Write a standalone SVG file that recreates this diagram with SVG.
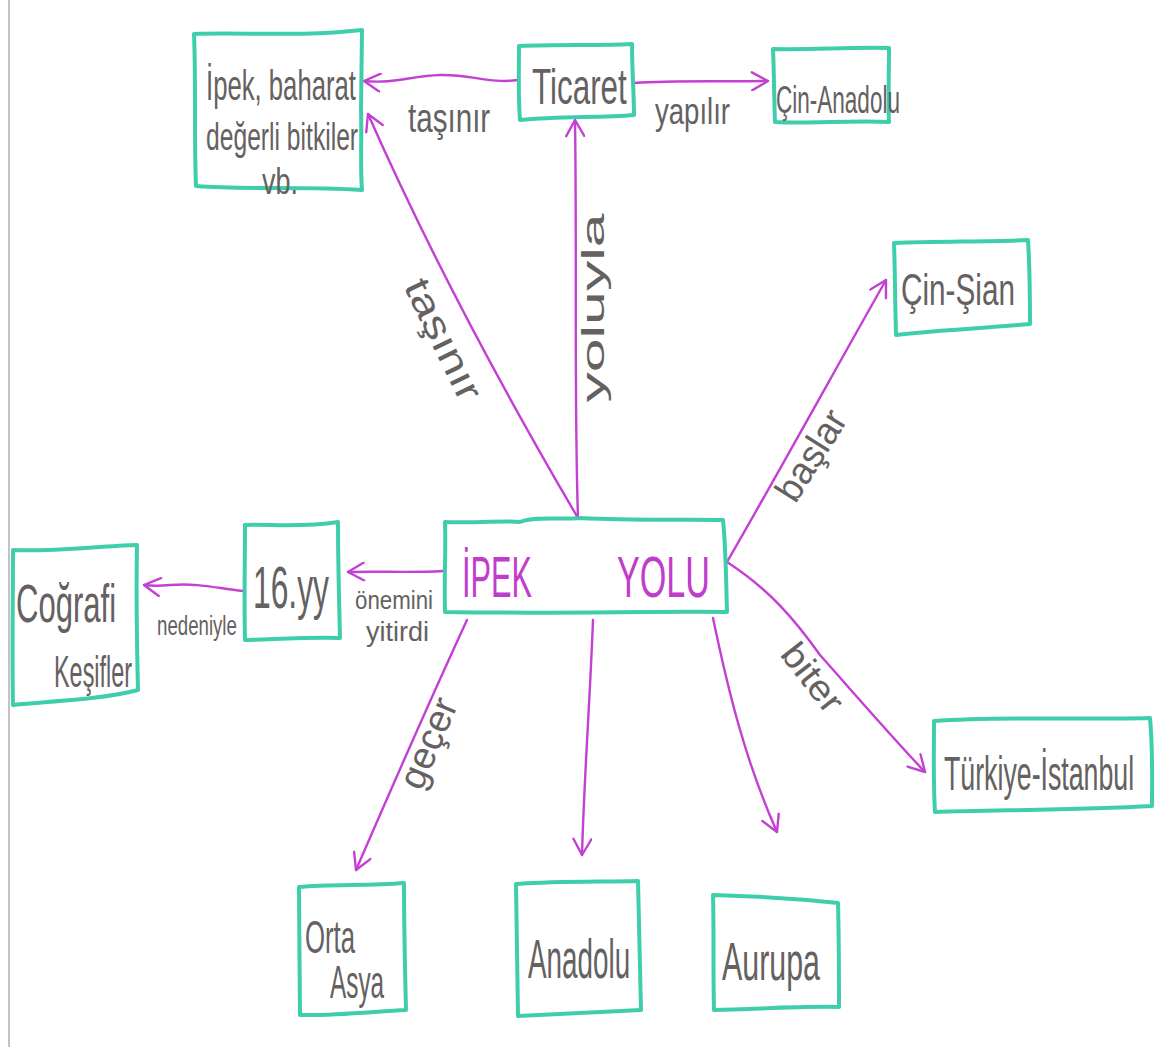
<svg xmlns="http://www.w3.org/2000/svg" width="1172" height="1047" viewBox="0 0 1172 1047">
  <defs>
    <style>
      .box { fill: none; stroke: #3fceac; stroke-width: 4; stroke-linejoin: round; stroke-linecap: round; }
      .edge { fill: none; stroke: #c43fd4; stroke-width: 2.4; stroke-linecap: round; }
      .t { font-family: 'Liberation Sans', 'DejaVu Sans', sans-serif; fill: #656161; }
      .main { font-family: 'Liberation Sans', 'DejaVu Sans', sans-serif; fill: #c23ccc; }
    </style>
    <marker id="arrow" viewBox="0 0 20 20" refX="18" refY="10" markerWidth="20" markerHeight="20" markerUnits="userSpaceOnUse" orient="auto">
      <path d="M2,1 L18,10 L2,19" fill="none" stroke="#c43fd4" stroke-width="2.4" stroke-linecap="round" stroke-linejoin="round"/>
    </marker>
  </defs>

  <rect width="1172" height="1047" fill="#ffffff"/>
  <!-- paper edge -->
  <line x1="9" y1="0" x2="9" y2="1047" stroke="#c4c2c2" stroke-width="2"/>

  <g id="connectors">
    <!-- Ticaret -> İpek, baharat -->
    <path class="edge" marker-end="url(#arrow)" d="M518,80 C490,84 470,74 440,75 C410,76 395,84 364,81"/>
    <!-- Ticaret -> Çin-Anadolu -->
    <path class="edge" marker-end="url(#arrow)" d="M634,83 C680,80 720,82 768,81"/>
    <!-- İpek Yolu -> İpek, baharat -->
    <path class="edge" marker-end="url(#arrow)" d="M578,518 Q450,300 368,114"/>
    <!-- İpek Yolu -> Ticaret -->
    <path class="edge" marker-end="url(#arrow)" d="M578,518 C574,400 577,250 575,120"/>
    <!-- İpek Yolu -> Çin-Şian -->
    <path class="edge" marker-end="url(#arrow)" d="M727,562 C780,470 835,370 886,280"/>
    <!-- İpek Yolu -> Türkiye-İstanbul -->
    <path class="edge" marker-end="url(#arrow)" d="M727,562 C770,590 795,620 820,655 C860,700 890,735 925,772"/>
    <!-- İpek Yolu -> 16.yy -->
    <path class="edge" marker-end="url(#arrow)" d="M443,571 C410,573 380,571 348,572"/>
    <!-- 16.yy -> Coğrafi Keşifler -->
    <path class="edge" marker-end="url(#arrow)" d="M243,591 C215,588 200,583 170,585 C160,586 152,586 144,585"/>
    <!-- İpek Yolu -> Orta Asya -->
    <path class="edge" marker-end="url(#arrow)" d="M467,620 C430,700 395,780 356,870"/>
    <!-- İpek Yolu -> Anadolu -->
    <path class="edge" marker-end="url(#arrow)" d="M593,620 C590,700 584,780 582,855"/>
    <!-- İpek Yolu -> Aurupa -->
    <path class="edge" marker-end="url(#arrow)" d="M713,618 C728,690 745,760 777,832"/>

    <!-- edge labels (narrow handwriting: squeezed horizontally) -->
    <text class="t" font-size="40" transform="translate(408,132) scale(0.74,1)">taşınır</text>
    <text class="t" font-size="36" transform="translate(655,124) scale(0.766,1)">yapılır</text>
    <text class="t" font-size="38" text-anchor="middle" transform="translate(432,345) rotate(64) scale(1.24,1)">taşınır</text>
    <text class="t" font-size="32" text-anchor="middle" transform="translate(604,308) rotate(-90) scale(1.9,1)">yoluyla</text>
    <text class="t" font-size="38" text-anchor="middle" transform="translate(822,462) rotate(-58) scale(0.966,1)">başlar</text>
    <text class="t" font-size="36" text-anchor="middle" transform="translate(803,685) rotate(52) scale(1.11,1)">biter</text>
    <text class="t" font-size="38" text-anchor="middle" transform="translate(440,748) rotate(-67)">geçer</text>
    <text class="t" font-size="26" transform="translate(355,609) scale(0.857,1)">önemini</text>
    <text class="t" x="366" y="641" font-size="27">yitirdi</text>
    <text class="t" font-size="28" transform="translate(157,635) scale(0.667,1)">nedeniyle</text>
  </g>

  <g id="node-ipek-baharat">
    <path class="box" d="M194,34 C240,32 300,37 362,30 L361,110 C362,140 360,165 362,190 C300,186 250,190 196,186 C194,140 196,80 194,34 Z"/>
    <text class="t" font-size="42" transform="translate(206,100) scale(0.612,1)">İpek, baharat</text>
    <text class="t" font-size="38" transform="translate(206,150) scale(0.649,1)">değerli bitkiler</text>
    <text class="t" font-size="36" transform="translate(262,194) scale(0.75,1)">vb.</text>
  </g>

  <g id="node-ticaret">
    <path class="box" d="M519,46 C560,44 600,46 632,44 C632,70 634,95 634,115 C600,118 560,116 520,120 C518,95 519,70 519,46 Z"/>
    <text class="t" font-size="50" transform="translate(532,104) scale(0.628,1)">Ticaret</text>
  </g>

  <g id="node-cin-anadolu">
    <path class="box" d="M773,49 C810,50 850,47 889,48 C889,75 888,100 889,122 C850,120 810,124 775,122 C774,95 774,70 773,49 Z"/>
    <text class="t" font-size="38" transform="translate(776,113) scale(0.593,1)">Çin-Anadolu</text>
  </g>

  <g id="node-cin-sian">
    <path class="box" d="M894,243 C940,241 990,242 1028,240 C1030,270 1030,300 1030,324 C990,328 940,330 896,335 C895,300 895,270 894,243 Z"/>
    <text class="t" font-size="44" transform="translate(901,305) scale(0.676,1)">Çin-Şian</text>
  </g>

  <g id="node-ipek-yolu">
    <path class="box" d="M445,522 C480,523 510,520 520,522 C535,516 560,520 580,518 C640,521 690,519 723,520 C726,550 726,580 727,612 C650,611 550,614 445,612 C444,580 446,550 445,522 Z"/>
    <text class="main" font-size="58" transform="translate(462,597) scale(0.53,1)">İPEK</text>
    <text class="main" font-size="58" transform="translate(617,597) scale(0.589,1)">YOLU</text>
  </g>

  <g id="node-16yy">
    <path class="box" d="M245,525 C270,524 300,528 338,522 C338,560 339,600 340,638 C310,637 280,639 245,640 C244,600 245,560 245,525 Z"/>
    <text class="t" font-size="60" transform="translate(253,608) scale(0.53,1)">16.yy</text>
  </g>

  <g id="node-cografi">
    <path class="box" d="M13,550 C50,552 100,546 137,545 C136,600 137,650 138,690 C100,700 50,701 13,705 C12,650 13,600 13,550 Z"/>
    <text class="t" font-size="54" transform="translate(16,622) scale(0.575,1)">Coğrafi</text>
    <text class="t" font-size="44" transform="translate(54,687) scale(0.532,1)">Keşifler</text>
  </g>

  <g id="node-turkiye-istanbul">
    <path class="box" d="M934,721 C1000,716 1080,720 1150,718 C1153,750 1152,780 1152,806 C1080,810 1000,810 935,812 C933,780 934,750 934,721 Z"/>
    <text class="t" font-size="48" transform="translate(944,790) scale(0.557,1)">Türkiye-İstanbul</text>
  </g>

  <g id="node-orta-asya">
    <path class="box" d="M299,887 C330,884 370,886 404,883 C404,930 405,970 406,1010 C370,1012 330,1016 300,1015 C300,970 299,930 299,887 Z"/>
    <text class="t" font-size="46" transform="translate(305,953) scale(0.559,1)">Orta</text>
    <text class="t" font-size="46" transform="translate(330,998) scale(0.529,1)">Asya</text>
  </g>

  <g id="node-anadolu">
    <path class="box" d="M516,884 C560,881 600,882 638,881 C639,930 640,970 641,1010 C600,1012 560,1014 518,1016 C517,970 517,930 516,884 Z"/>
    <text class="t" font-size="56" transform="translate(528,978) scale(0.497,1)">Anadolu</text>
  </g>

  <g id="node-aurupa">
    <path class="box" d="M713,895 C750,896 790,898 838,903 C839,940 839,975 839,1007 C800,1006 760,1009 714,1010 C713,970 714,930 713,895 Z"/>
    <text class="t" font-size="54" transform="translate(722,980) scale(0.563,1)">Aurupa</text>
  </g>
</svg>
